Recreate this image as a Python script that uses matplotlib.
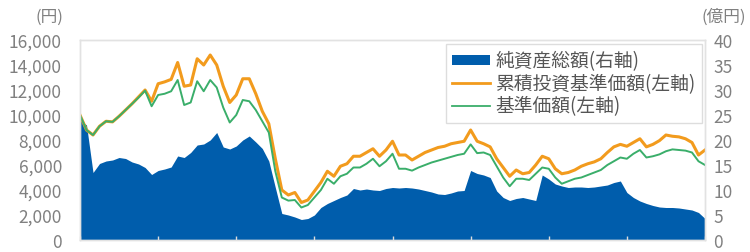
import matplotlib
matplotlib.use("Agg")
import matplotlib.pyplot as plt
from matplotlib.patches import Patch
from matplotlib.lines import Line2D

plt.rcParams['font.family'] = ['Noto Sans CJK JP', 'DejaVu Sans']

# month index from start (8 years, monthly)
months = list(range(97))

# 累積投資基準価額 (左軸, 円)
cum_nav = [10000, 8800, 8400, 9100, 9500, 9450, 9900, 10400, 10900, 11450,
           12000, 11100, 12500, 12650, 12850, 14200, 12300, 12400, 14500, 14000,
           14800, 14000, 12300, 11000, 11600, 12900, 12900, 11700, 10300, 9300,
           6500, 4000, 3600, 3800, 3000, 3200, 3900, 4600, 5500, 5100,
           5900, 6100, 6700, 6700, 7000, 7300, 6700, 7200, 7900, 6800,
           6800, 6400, 6700, 7000, 7200, 7400, 7500, 7700, 7800, 7900,
           8800, 7900, 7700, 7450, 6500, 5800, 5100, 5600, 5300, 5400,
           6000, 6700, 6500, 5700, 5300, 5400, 5600, 5900, 6100, 6250,
           6500, 7000, 7450, 7650, 7500, 7800, 8100, 7450, 7650, 7950,
           8400, 8300, 8250, 8100, 7800, 6800, 7200]

# 基準価額 (左軸, 円)
nav = [10000, 8800, 8400, 9100, 9500, 9450, 9900, 10400, 10900, 11400,
       11950, 10700, 11600, 11700, 11900, 12800, 10800, 11000, 12700, 11900,
       12800, 12200, 10600, 9400, 10000, 11200, 11100, 10400, 9500, 8600,
       5500, 3400, 3150, 3200, 2600, 2800, 3400, 4000, 4900, 4500,
       5100, 5300, 5800, 5800, 6100, 6500, 5900, 6300, 6900, 5700,
       5700, 5550, 5800, 6000, 6200, 6350, 6500, 6650, 6800, 6900,
       7650, 6950, 7000, 6800, 5900, 5000, 4300, 4900, 4900, 4800,
       5300, 5800, 5700, 5000, 4500, 4700, 4900, 5000, 5200, 5400,
       5600, 6000, 6300, 6600, 6500, 6900, 7200, 6600, 6700, 6850,
       7100, 7250, 7200, 7150, 7000, 6300, 6000]

# 純資産総額 (右軸, 億円)
net_assets = [24.0, 23.0, 13.5, 15.3, 15.8, 16.0, 16.5, 16.3, 15.6, 15.2,
              14.5, 13.1, 13.9, 14.2, 14.6, 16.8, 16.5, 17.5, 19.0, 19.2,
              20.0, 21.5, 18.6, 18.2, 18.8, 20.0, 20.8, 19.6, 18.3, 15.8,
              10.5, 5.3, 5.0, 4.6, 4.1, 4.3, 5.0, 6.5, 7.3, 7.9,
              8.5, 9.0, 10.3, 10.0, 10.2, 10.0, 9.9, 10.3, 10.5, 10.4,
              10.5, 10.4, 10.2, 9.9, 9.6, 9.2, 9.1, 9.4, 9.8, 9.9,
              13.9, 13.3, 13.0, 12.5, 9.8, 8.5, 7.9, 8.3, 8.5, 8.2,
              7.9, 13.0, 12.2, 11.2, 10.8, 10.5, 10.6, 10.6, 10.5, 10.6,
              10.8, 11.0, 11.5, 11.8, 9.5, 8.5, 7.8, 7.3, 6.9, 6.6,
              6.5, 6.5, 6.4, 6.2, 6.0, 5.5, 4.3]

left_ticks = [0, 2000, 4000, 6000, 8000, 10000, 12000, 14000, 16000]
right_ticks = [0, 5, 10, 15, 20, 25, 30, 35, 40]
year_ticks = [0, 12, 24, 36, 48, 60, 72, 84, 96]

labels = ['純資産総額(右軸)', '累積投資基準価額(左軸)', '基準価額(左軸)']

BLUE = '#005DAC'
ORANGE = '#F29B1D'
GREEN = '#3AAE6A'
GRAY = '#808080'

W, H = 750, 253
fig = plt.figure(figsize=(W / 100, H / 100), dpi=100)
ax = fig.add_axes([80 / W, 1 - 241 / H, (705 - 80) / W, (241 - 41) / H])
ax2 = ax.twinx()

ax2.fill_between(months, 0, net_assets, color=BLUE, linewidth=0)
ax2.set_ylim(0, 40)
ax2.set_yticks(right_ticks)

ax.plot(months, cum_nav, color=ORANGE, linewidth=2.2)
ax.plot(months, nav, color=GREEN, linewidth=1.4)
ax.set_ylim(0, 16000)
ax.set_yticks(left_ticks)
ax.set_yticklabels([f'{v:,}' for v in left_ticks])
ax.set_xlim(0, 96)
ax.set_xticks(year_ticks)
ax.set_xticklabels([])

ax.set_zorder(ax2.get_zorder() + 1)
ax.patch.set_visible(False)

for a in (ax, ax2):
    for s in a.spines.values():
        s.set_color('#e2e2e2')
        s.set_linewidth(1.0)
ax.tick_params(axis='y', length=0, pad=13, labelsize=12.5, labelcolor=GRAY)
ax2.tick_params(axis='y', length=0, pad=6, labelsize=12.5, labelcolor=GRAY)
ax.tick_params(axis='x', direction='in', length=3, color='#dcdcdc', width=1)
ax2.tick_params(axis='x', length=0)

fig.text(63 / W, 1 - 17 / H, '(円)', ha='right', va='center', fontsize=12, color=GRAY)
fig.text(746 / W, 1 - 17 / H, '(億円)', ha='right', va='center', fontsize=12, color=GRAY)

handles = [Patch(facecolor=BLUE, edgecolor='none'),
           Line2D([], [], color=ORANGE, linewidth=2.0),
           Line2D([], [], color=GREEN, linewidth=1.3)]
leg = ax.legend(handles, labels, loc='upper right',
                bbox_to_anchor=(702 / W, 1 - 45 / H), bbox_transform=fig.transFigure,
                borderaxespad=0, fontsize=13.5, frameon=True, fancybox=False,
                framealpha=1, edgecolor='#dddddd', handlelength=2.0,
                handleheight=0.5, handletextpad=0.3, labelspacing=0.08,
                borderpad=0.35)
for t in leg.get_texts():
    t.set_color('#555555')

fig.savefig('out.png', dpi=100)
